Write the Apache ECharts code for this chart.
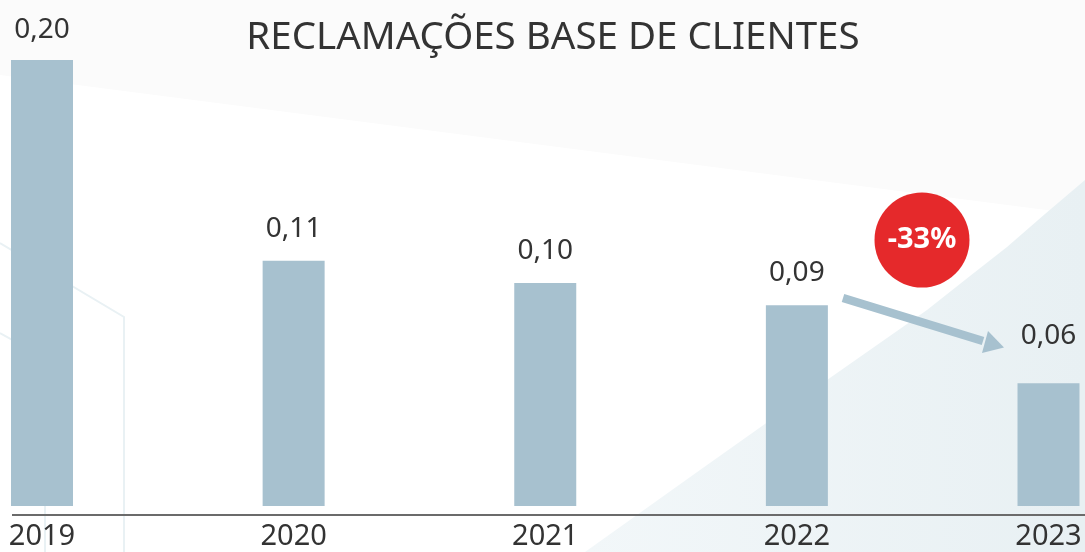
<!DOCTYPE html>
<html>
<head>
<meta charset="utf-8">
<script src="https://cdn.jsdelivr.net/npm/echarts@6/dist/echarts.min.js"></script>
<style>
  html, body { margin: 0; padding: 0; background: #fff; }
  #chart { width: 1085px; height: 552px; }
</style>
</head>
<body>
<div id="chart"></div>
<script>
// dados do gráfico
var anos = ['2019', '2020', '2021', '2022', '2023'];
var valores = [0.20, 0.11, 0.10, 0.09, 0.055];
var rotulos = ['0,20', '0,11', '0,10', '0,09', '0,06'];
var variacao = '-33%';

var corBarra = '#a7c1cf';
var fonte = 'Noto Sans';

var chart = echarts.init(document.getElementById('chart'));

// rótulo do último ano fica mais alto no original
var dados = valores.map(function (v, i) {
    var item = { value: v, label: { formatter: rotulos[i] } };
    if (i === 0) item.label.distance = 16;
    if (i === valores.length - 1) item.label.distance = 33;
    return item;
});

var option = {
    backgroundColor: '#ffffff',
    animation: false,
    title: {
        text: 'RECLAMAÇÕES BASE DE CLIENTES',
        left: 548,
        textAlign: 'center',
        top: 14,
        textStyle: {
            fontFamily: fonte,
            fontSize: 38.5,
            fontWeight: 'normal',
            color: '#333333'
        }
    },
    grid: {
        left: 42,
        right: 36.5,
        top: 60,
        bottom: 46
    },
    xAxis: {
        type: 'category',
        data: anos,
        boundaryGap: false,
        axisLine: { show: false },
        axisTick: { show: false },
        axisLabel: {
            margin: 16,
            fontFamily: fonte,
            fontSize: 29,
            color: '#333333'
        }
    },
    yAxis: {
        type: 'value',
        min: 0,
        max: 0.2,
        show: false,
        splitLine: { show: false }
    },
    graphic: [
        // fundo: faixa cinza bem clara no topo
        {
            type: 'polygon', z: -10, silent: true,
            shape: { points: [[0, 0], [1085, 0], [1085, 215], [0, 75]] },
            style: { fill: '#fbfbfb' }
        },
        // fundo: área azulada no canto inferior direito
        {
            type: 'polygon', z: -9, silent: true,
            shape: {
                points: [[585, 552], [700, 470], [827, 380], [927, 310], [970, 276], [1007, 247], [1045, 214], [1085, 180], [1085, 552]]
            },
            style: {
                fill: new echarts.graphic.LinearGradient(0, 0, 1, 0, [
                    { offset: 0, color: '#f2f7f9' },
                    { offset: 1, color: '#e8f0f3' }
                ])
            }
        },
        // linhas decorativas à esquerda
        {
            type: 'polyline', z: -8, silent: true,
            shape: { points: [[0, 243], [124, 317], [124, 552]] },
            style: { stroke: '#e9f1f4', lineWidth: 2, fill: null }
        },
        {
            type: 'polyline', z: -8, silent: true,
            shape: { points: [[0, 333], [45, 358], [45, 552]] },
            style: { stroke: '#e9f1f4', lineWidth: 2, fill: null }
        },
        // linha do eixo
        {
            type: 'line', z: 5, silent: true,
            shape: { x1: 12, y1: 515, x2: 1085, y2: 515 },
            style: { stroke: '#6b6b6b', lineWidth: 2 }
        },
        // seta
        {
            type: 'line', z: 5, silent: true,
            shape: { x1: 843, y1: 298, x2: 983, y2: 341 },
            style: { stroke: corBarra, lineWidth: 8.5 }
        },
        {
            type: 'polygon', z: 5, silent: true,
            shape: { points: [[1004, 347.5], [988, 331], [982, 353]] },
            style: { fill: corBarra }
        },
        // círculo -33%
        {
            type: 'circle', z: 6, silent: true,
            shape: { cx: 922, cy: 240, r: 47.5 },
            style: { fill: '#e5292b' }
        },
        {
            type: 'text', z: 7, silent: true,
            x: 922, y: 240,
            style: {
                text: variacao,
                fill: '#ffffff',
                font: 'bold 29px "Noto Sans"',
                align: 'center',
                verticalAlign: 'middle'
            }
        }
    ],
    series: [
        {
            type: 'bar',
            data: dados,
            barWidth: 62,
            clip: false,
            itemStyle: { color: corBarra },
            label: {
                show: true,
                position: 'top',
                distance: 18,
                fontFamily: fonte,
                fontSize: 28,
                color: '#333333'
            }
        }
    ]
};

chart.setOption(option);
</script>
</body>
</html>
